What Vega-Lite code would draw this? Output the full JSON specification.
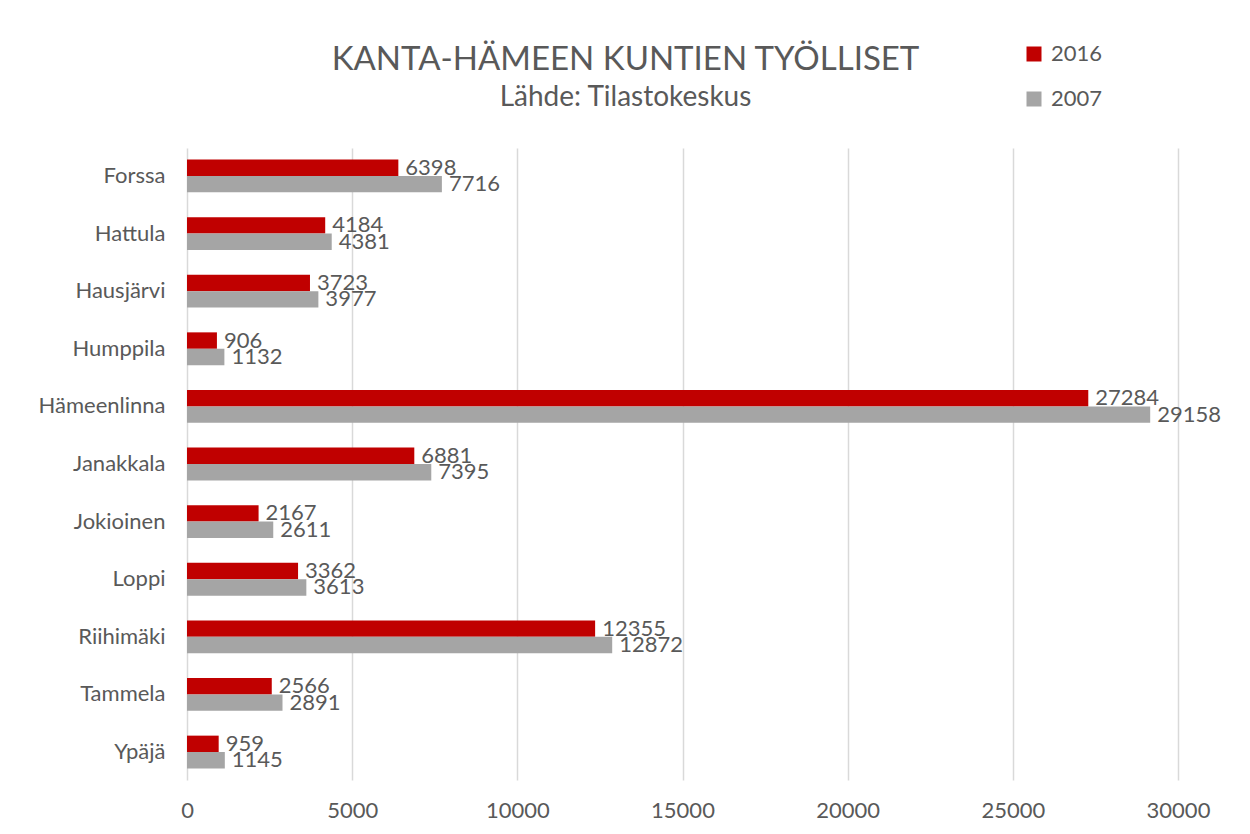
{
  "$schema": "https://vega.github.io/schema/vega-lite/v6.json",
  "autosize": "none",
  "width": 991,
  "height": 632,
  "padding": {"left": 187, "top": 148, "right": 72, "bottom": 54},
  "background": "white",
  "config": {
    "font": "Lato",
    "view": {"stroke": null},
    "axis": {"labelFont": "Lato", "labelColor": "#595959", "labelFontSize": 22, "domain": false, "ticks": false, "title": null},
    "legend": {"labelFont": "Lato"}
  },
  "title": {
    "text": "KANTA-HÄMEEN KUNTIEN TYÖLLISET",
    "subtitle": "Lähde: Tilastokeskus",
    "anchor": "middle",
    "frame": "group",
    "dx": -57,
    "offset": -69,
    "font": "Lato",
    "fontSize": 33,
    "fontWeight": "normal",
    "color": "#595959",
    "subtitleFont": "Lato",
    "subtitleFontSize": 28,
    "subtitleColor": "#595959",
    "subtitlePadding": 7
  },
  "data": {
    "values": [
      {"kunta": "Forssa", "vuosi": "2016", "tyolliset": 6398},
      {"kunta": "Forssa", "vuosi": "2007", "tyolliset": 7716},
      {"kunta": "Hattula", "vuosi": "2016", "tyolliset": 4184},
      {"kunta": "Hattula", "vuosi": "2007", "tyolliset": 4381},
      {"kunta": "Hausjärvi", "vuosi": "2016", "tyolliset": 3723},
      {"kunta": "Hausjärvi", "vuosi": "2007", "tyolliset": 3977},
      {"kunta": "Humppila", "vuosi": "2016", "tyolliset": 906},
      {"kunta": "Humppila", "vuosi": "2007", "tyolliset": 1132},
      {"kunta": "Hämeenlinna", "vuosi": "2016", "tyolliset": 27284},
      {"kunta": "Hämeenlinna", "vuosi": "2007", "tyolliset": 29158},
      {"kunta": "Janakkala", "vuosi": "2016", "tyolliset": 6881},
      {"kunta": "Janakkala", "vuosi": "2007", "tyolliset": 7395},
      {"kunta": "Jokioinen", "vuosi": "2016", "tyolliset": 2167},
      {"kunta": "Jokioinen", "vuosi": "2007", "tyolliset": 2611},
      {"kunta": "Loppi", "vuosi": "2016", "tyolliset": 3362},
      {"kunta": "Loppi", "vuosi": "2007", "tyolliset": 3613},
      {"kunta": "Riihimäki", "vuosi": "2016", "tyolliset": 12355},
      {"kunta": "Riihimäki", "vuosi": "2007", "tyolliset": 12872},
      {"kunta": "Tammela", "vuosi": "2016", "tyolliset": 2566},
      {"kunta": "Tammela", "vuosi": "2007", "tyolliset": 2891},
      {"kunta": "Ypäjä", "vuosi": "2016", "tyolliset": 959},
      {"kunta": "Ypäjä", "vuosi": "2007", "tyolliset": 1145}
    ]
  },
  "encoding": {
    "y": {
      "field": "kunta",
      "type": "nominal",
      "sort": null,
      "scale": {"paddingInner": 0.43, "paddingOuter": 0.2},
      "axis": {"labelPadding": 22}
    },
    "yOffset": {
      "field": "vuosi",
      "type": "nominal",
      "sort": ["2016", "2007"],
      "scale": {"paddingInner": 0, "paddingOuter": 0}
    },
    "x": {
      "field": "tyolliset",
      "type": "quantitative",
      "scale": {"domain": [0, 30000], "nice": false},
      "axis": {
        "values": [0, 5000, 10000, 15000, 20000, 25000, 30000],
        "format": "d",
        "grid": true,
        "gridColor": "#d9d9d9",
        "gridWidth": 1.5,
        "labelPadding": 20,
        "labelFlush": false
      }
    }
  },
  "layer": [
    {
      "mark": {"type": "bar"},
      "encoding": {
        "color": {
          "field": "vuosi",
          "type": "nominal",
          "scale": {"domain": ["2016", "2007"], "range": ["#c00000", "#a5a5a5"]},
          "legend": {
            "title": null,
            "orient": "none",
            "legendX": 836,
            "legendY": -105,
            "symbolType": "square",
            "symbolSize": 225,
            "symbolStrokeWidth": 0,
            "labelFontSize": 22,
            "labelColor": "#595959",
            "labelOffset": 6,
            "rowPadding": 23
          }
        }
      }
    },
    {
      "mark": {"type": "text", "align": "left", "baseline": "middle", "dx": 7, "fontSize": 22, "font": "Lato", "color": "#595959"},
      "encoding": {
        "text": {"field": "tyolliset", "type": "quantitative", "format": "d"}
      }
    }
  ]
}
